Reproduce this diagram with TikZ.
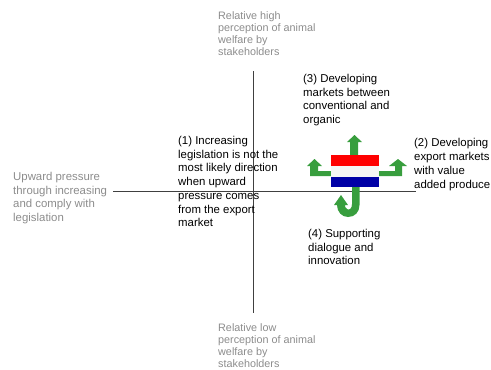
\documentclass[tikz,border=0pt]{standalone}
\usepackage{fontspec}
\setmainfont{Liberation Sans}
\begin{document}
\begin{tikzpicture}[x=1pt,y=-1pt,
  lbl/.style={anchor=north west,inner sep=0pt,align=left,font=\fontsize{11.4}{13.75}\selectfont,text=black},
  glbl/.style={lbl,text=black!45},
  vlbl/.style={glbl,font=\fontsize{10.8}{12.1}\selectfont},
  axis/.style={draw=black!75,line width=0.9pt},
  ]
\useasboundingbox (0,0) rectangle (491,370);
\definecolor{arrowgreen}{RGB}{56,158,62}
\coordinate (vt) at (253.5,71);
\coordinate (vb) at (253.5,313);
\coordinate (hl) at (113,191);
\coordinate (hr) at (416,191);
\draw[axis] (vt) -- (vb);
\draw[axis] (hl) -- (hr);
\node[vlbl] (top) at (218,11) {Relative high\\perception of animal\\welfare by\\stakeholders};
\node[vlbl] (bot) at (218,323.3) {Relative low\\perception of animal\\welfare by\\stakeholders};
\node[glbl] (left) at (13,172) {Upward pressure\\through increasing\\and comply with\\legislation};
\node[lbl] (n1) at (178,136) {(1) Increasing\\legislation is not the\\most likely direction\\when upward\\pressure comes\\from the export\\market};
\node[lbl] (n3) at (303,74) {(3) Developing\\markets between\\conventional and\\organic};
\node[lbl] (n2) at (414,138.5) {(2) Developing\\export markets\\with value\\added produce};
\node[lbl] (n4) at (308,229) {(4) Supporting\\dialogue and\\innovation};
% arrows
\fill[arrowgreen] (350,156) -- (350,142) -- (347,142) -- (354.5,135) -- (362,142) -- (358,142) -- (358,156) -- cycle;
\fill[arrowgreen] (332,176) -- (310,176) -- (310,166) -- (307,166) -- (314.5,159) -- (322,166) -- (318,166) -- (318,171) -- (332,171) -- cycle;
\fill[arrowgreen] (378,176) -- (402,176) -- (402,166) -- (407,166) -- (398,159) -- (389,166) -- (395,166) -- (395,171) -- (378,171) -- cycle;
\fill[arrowgreen] (352,186) -- (352,204) .. controls (352,209) and (349,210.5) .. (347,209) .. controls (345,208) and (345,206) .. (345,205) -- (348,205) -- (341,195) -- (334,205) -- (337,205) .. controls (337,212) and (342,217) .. (348,217) .. controls (355,217) and (359.5,212) .. (359.5,205) -- (359.5,186) -- cycle;
% flag
\fill[red] (331,155) rectangle (379,166);
\fill[black!4] (331,166) rectangle (379,177);
\fill[blue!65!black] (331,177) rectangle (379,187);
\end{tikzpicture}
\end{document}
